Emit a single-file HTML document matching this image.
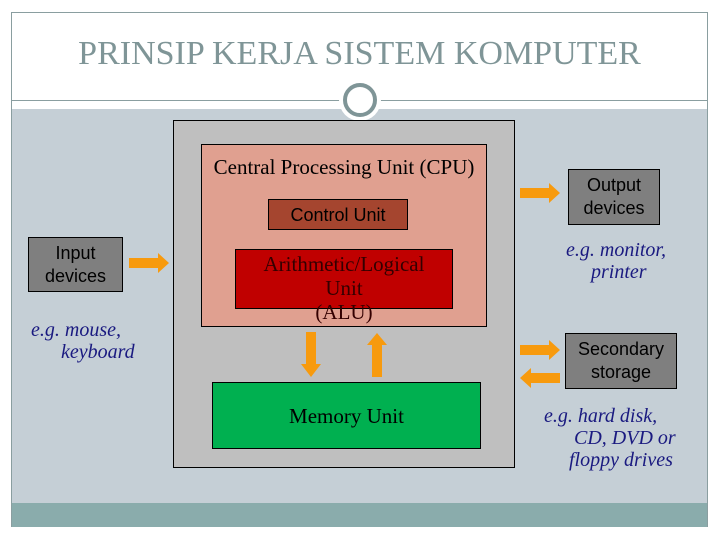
<!DOCTYPE html>
<html><head><style>
body{margin:0;width:720px;height:540px;background:#fff;position:relative;overflow:hidden;font-family:"Liberation Sans",sans-serif}
.a{position:absolute;box-sizing:border-box}
.serif{font-family:"Liberation Serif",serif}
.gbox{background:#7f7f7f;border:1px solid #000;color:#000;font-size:18px;text-align:center;line-height:23px;display:flex;align-items:center;justify-content:center}
.eg{font-family:"Liberation Serif",serif;font-style:italic;color:#1a1a80;font-size:20px;line-height:22px}
</style></head><body>
<div class="a" style="left:11px;top:12px;width:697px;height:515px;border:1px solid #8a9ea0;background:#c5cfd6"></div>
<div class="a" style="left:12px;top:13px;width:695px;height:96px;background:#fff"></div>
<div class="a" style="left:12px;top:100px;width:695px;height:1px;background:#8a9ea0"></div>
<div class="a serif" style="left:12px;top:35px;width:695px;text-align:center;font-size:34px;color:#7f9597">PRINSIP KERJA SISTEM KOMPUTER</div>
<div class="a" style="left:339px;top:79px;width:42px;height:42px;border-radius:50%;background:#fff"></div>
<div class="a" style="left:343px;top:83px;width:34px;height:34px;border-radius:50%;border:4px solid #7f9597"></div>
<div class="a" style="left:12px;top:503px;width:695px;height:24px;background:#8aacac"></div>

<div class="a" style="left:173px;top:120px;width:342px;height:348px;background:#bfbfbf;border:1px solid #000"></div>
<div class="a" style="left:201px;top:144px;width:286px;height:183px;background:#e0a090;border:1px solid #000"></div>
<div class="a serif" style="left:201px;top:155px;width:286px;text-align:center;font-size:21px">Central Processing Unit (CPU)</div>
<div class="a" style="left:268px;top:199px;width:140px;height:31px;background:#a5452f;border:1px solid #000;text-align:center;font-size:18px;line-height:30px">Control Unit</div>
<div class="a" style="left:235px;top:249px;width:218px;height:60px;background:#c00000;border:1px solid #000"></div>
<div class="a serif" style="left:235px;top:252px;width:218px;text-align:center;font-size:21px;line-height:24px;color:#300">Arithmetic/Logical<br>Unit<br>(ALU)</div>
<div class="a" style="left:212px;top:382px;width:269px;height:67px;background:#00b050;border:1px solid #000"></div>
<div class="a serif" style="left:212px;top:404px;width:269px;text-align:center;font-size:21px">Memory Unit</div>

<div class="a gbox" style="left:28px;top:237px;width:95px;height:55px">Input<br>devices</div>
<div class="a eg" style="left:31px;top:319px">e.g. mouse,<br>&nbsp;&nbsp;&nbsp;&nbsp;&nbsp;&nbsp;keyboard</div>
<div class="a gbox" style="left:568px;top:169px;width:92px;height:56px">Output<br>devices</div>
<div class="a eg" style="left:566px;top:239px">e.g. monitor,<br>&nbsp;&nbsp;&nbsp;&nbsp;&nbsp;printer</div>
<div class="a gbox" style="left:565px;top:333px;width:112px;height:56px">Secondary<br>storage</div>
<div class="a eg" style="left:544px;top:405px">e.g. hard disk,<br>&nbsp;&nbsp;&nbsp;&nbsp;&nbsp;&nbsp;CD, DVD or<br>&nbsp;&nbsp;&nbsp;&nbsp;&nbsp;floppy drives</div>

<svg class="a" style="left:0;top:0" width="720" height="540">
<g fill="#f79a0e">
<polygon points="129,258 158,258 158,253 169,263 158,273 158,268 129,268"/>
<polygon points="520,188 549,188 549,183 560,193 549,203 549,198 520,198"/>
<polygon points="520,345 549,345 549,340 560,350 549,360 549,355 520,355"/>
<polygon points="560,373 531,373 531,368 520,378 531,388 531,383 560,383"/>
<polygon points="306,332 316,332 316,364 321,364 311,377 301,364 306,364"/>
<polygon points="372,377 382,377 382,345 387,345 377,333 367,345 372,345"/>
</g>
</svg>
</body></html>
